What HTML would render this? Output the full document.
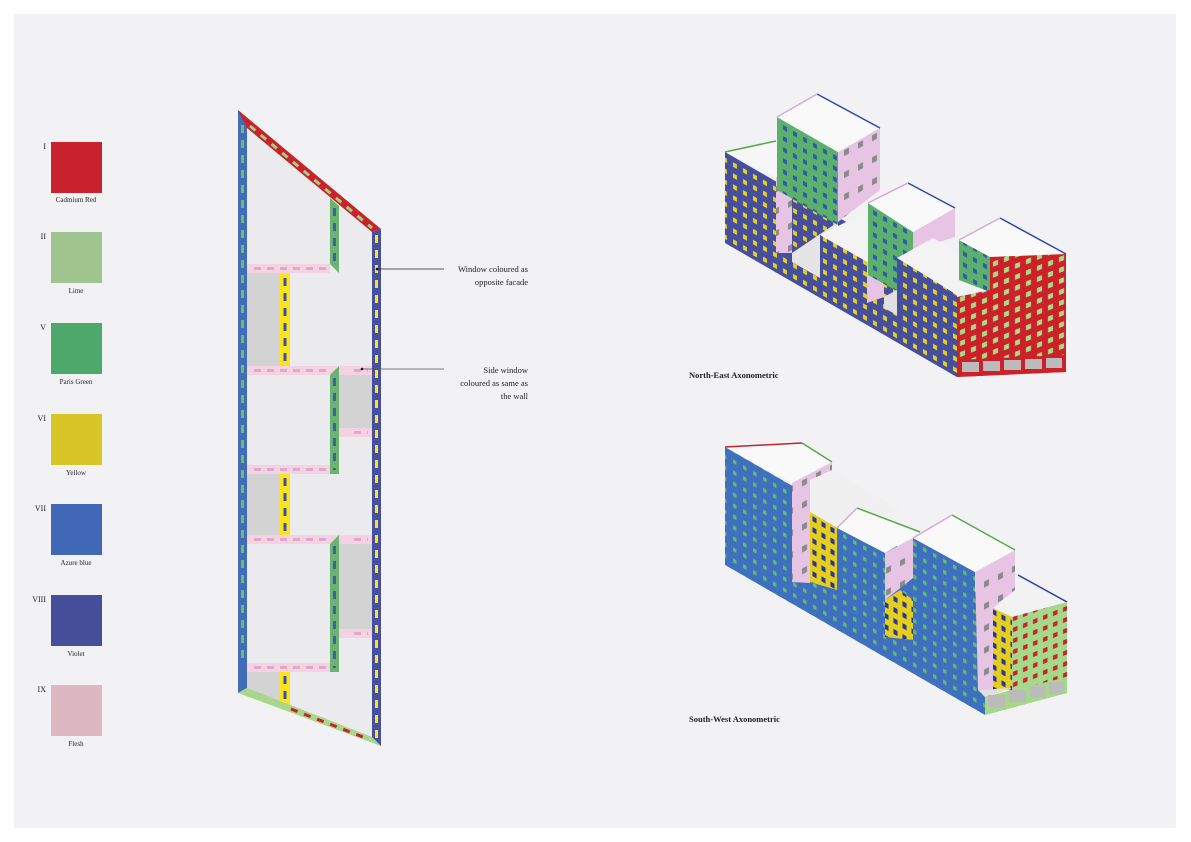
<!DOCTYPE html>
<html><head><meta charset="utf-8"><style>
html,body{margin:0;padding:0;background:#fff;}
svg{display:block;}
text{font-family:"Liberation Serif",serif;fill:#222;}
</style></head><body>
<svg width="1191" height="842" viewBox="0 0 1191 842" xmlns="http://www.w3.org/2000/svg">
<defs>
<pattern id="pV" width="10" height="11" patternUnits="userSpaceOnUse" patternTransform="skewY(30)"><rect width="10" height="11" fill="#454f9e"/><rect x="3" y="3" width="4" height="4.5" fill="#e8d21c"/></pattern>
<pattern id="pG" width="10" height="11" patternUnits="userSpaceOnUse" patternTransform="skewY(30)"><rect width="10" height="11" fill="#5cb06e"/><rect x="3" y="3" width="4" height="4.5" fill="#2f5aa8"/></pattern>
<pattern id="pR" width="11" height="11" patternUnits="userSpaceOnUse" patternTransform="skewY(-22)"><rect width="11" height="11" fill="#cc2128"/><rect x="3" y="3" width="5" height="5" fill="#a6df8a"/></pattern>
<pattern id="pA" width="10" height="11" patternUnits="userSpaceOnUse" patternTransform="skewY(30)"><rect width="10" height="11" fill="#3f6fbf"/><rect x="3" y="3" width="3.5" height="4" fill="#5cc06a"/></pattern>
<pattern id="pY" width="9" height="11" patternUnits="userSpaceOnUse" patternTransform="skewY(30)"><rect width="9" height="11" fill="#e6cf1c"/><rect x="2.5" y="3" width="4" height="5" fill="#2a35a0"/></pattern>
<pattern id="pL" width="10" height="11" patternUnits="userSpaceOnUse" patternTransform="skewY(-22)"><rect width="10" height="11" fill="#a6d88a"/><rect x="3" y="3" width="4.5" height="4.5" fill="#cc2128"/></pattern>
<pattern id="pP" width="14" height="22" patternUnits="userSpaceOnUse" patternTransform="skewY(-28)"><rect width="14" height="22" fill="#e8c4e4"/><rect x="4" y="5" width="5" height="6" fill="#8a8a8a"/></pattern>
</defs>
<rect x="14" y="14" width="1162" height="814" fill="#f2f2f4"/>

<!-- Legend -->
<g font-size="8">
<text x="46" y="149" text-anchor="end">I</text><rect x="51" y="142" width="51" height="51" fill="#c9242e"/><text x="76" y="202" text-anchor="middle" font-size="7">Cadmium Red</text>
<text x="46" y="239" text-anchor="end">II</text><rect x="51" y="232" width="51" height="51" fill="#9fc48e"/><text x="76" y="293" text-anchor="middle" font-size="7">Lime</text>
<text x="46" y="330" text-anchor="end">V</text><rect x="51" y="323" width="51" height="51" fill="#4ca86b"/><text x="76" y="384" text-anchor="middle" font-size="7">Paris Green</text>
<text x="46" y="421" text-anchor="end">VI</text><rect x="51" y="414" width="51" height="51" fill="#d8c626"/><text x="76" y="475" text-anchor="middle" font-size="7">Yellow</text>
<text x="46" y="511" text-anchor="end">VII</text><rect x="51" y="504" width="51" height="51" fill="#4068b6"/><text x="76" y="565" text-anchor="middle" font-size="7">Azure blue</text>
<text x="46" y="602" text-anchor="end">VIII</text><rect x="51" y="595" width="51" height="51" fill="#454e98"/><text x="76" y="656" text-anchor="middle" font-size="7">Violet</text>
<text x="46" y="692" text-anchor="end">IX</text><rect x="51" y="685" width="51" height="51" fill="#ddb8c1"/><text x="76" y="746" text-anchor="middle" font-size="7">Flesh</text>
</g>

<!-- Plan -->
<polygon points="247,118 372,232 372,740 247,693" fill="#ebebed"/>
<g fill="#d3d3d3">
<rect x="247" y="272" width="33" height="94"/>
<rect x="339" y="374" width="33" height="54"/>
<rect x="247" y="474" width="33" height="61"/>
<rect x="339" y="544" width="33" height="86"/>
<polygon points="247,672 280,672 280,705 247,693"/>
</g>
<g fill="#f4d2e2">
<rect x="247" y="264" width="83" height="9"/>
<rect x="247" y="366" width="125" height="9"/>
<rect x="339" y="428" width="33" height="9"/>
<rect x="247" y="465" width="83" height="9"/>
<rect x="247" y="535" width="125" height="9"/>
<rect x="339" y="629" width="33" height="9"/>
<rect x="247" y="663" width="83" height="9"/>
</g>
<g stroke="#e0a8cc" stroke-width="3" stroke-dasharray="7,6">
<line x1="254" y1="268.5" x2="330" y2="268.5"/>
<line x1="254" y1="370.5" x2="330" y2="370.5"/><line x1="354" y1="370.5" x2="368" y2="370.5"/>
<line x1="354" y1="432.5" x2="368" y2="432.5"/>
<line x1="254" y1="469.5" x2="330" y2="469.5"/>
<line x1="254" y1="539.5" x2="330" y2="539.5"/><line x1="354" y1="539.5" x2="368" y2="539.5"/>
<line x1="354" y1="633.5" x2="368" y2="633.5"/>
<line x1="254" y1="667.5" x2="330" y2="667.5"/>
</g>
<g fill="#6ab46f">
<polygon points="330,198 339,206 339,273 330,264"/>
<polygon points="330,375 339,366 339,474 330,474"/>
<polygon points="330,544 339,535 339,672 330,672"/>
</g>
<g stroke="#3c5fb0" stroke-width="3" stroke-dasharray="8,7">
<line x1="334.5" y1="208" x2="334.5" y2="262"/>
<line x1="334.5" y1="378" x2="334.5" y2="470"/>
<line x1="334.5" y1="546" x2="334.5" y2="668"/>
</g>
<g fill="#fde41a">
<rect x="280" y="273" width="10" height="93"/>
<rect x="280" y="474" width="10" height="61"/>
<rect x="280" y="672" width="10" height="33"/>
</g>
<g stroke="#3c4fa8" stroke-width="3" stroke-dasharray="8,7">
<line x1="285" y1="278" x2="285" y2="364"/>
<line x1="285" y1="478" x2="285" y2="532"/>
<line x1="285" y1="676" x2="285" y2="700"/>
</g>
<polygon points="238,110 247,118 247,688 238,693" fill="#416cb8"/>
<line x1="242.5" y1="125" x2="242.5" y2="660" stroke="#6dbb6e" stroke-width="3" stroke-dasharray="8,7"/>
<polygon points="238,110 381,229 372,232 247,128" fill="#c8232a"/>
<line x1="250" y1="126" x2="372" y2="228" stroke="#9fd08a" stroke-width="3" stroke-dasharray="7,7"/>
<polygon points="238,693 247,688 372,737 381,746" fill="#a8d68a"/>
<line x1="291" y1="709" x2="368" y2="739" stroke="#c8232a" stroke-width="3" stroke-dasharray="7,7"/>
<polygon points="372,232 381,229 381,746 372,737" fill="#4650a2"/>
<line x1="376.5" y1="235" x2="376.5" y2="740" stroke="#fde41a" stroke-width="3" stroke-dasharray="8,7"/>

<line x1="377" y1="269" x2="444" y2="269" stroke="#222" stroke-width="0.8"/><circle cx="377" cy="269" r="1.3" fill="#111"/>
<line x1="362" y1="369" x2="444" y2="369" stroke="#555" stroke-width="0.8"/><circle cx="362" cy="369" r="1.3" fill="#111"/>
<g font-size="8.5" text-anchor="end">
<text x="528" y="272">Window coloured as</text>
<text x="528" y="285">opposite facade</text>
<text x="528" y="373">Side window</text>
<text x="528" y="386">coloured as same as</text>
<text x="528" y="399">the wall</text>
</g>

<!-- NE Axonometric -->
<polygon points="725,152 957,286 957,377 725,243" fill="url(#pV)"/>
<polygon points="725,152 776,140 792,172 776,177" fill="#f7f7f7"/>
<line x1="725" y1="152" x2="776" y2="141" stroke="#55a84c" stroke-width="1.5"/>
<polygon points="776,177 792,171 792,253 776,253" fill="url(#pP)"/>
<polygon points="792,253 838,222 838,270 820,278 792,262" fill="#e5e5e5"/>
<polygon points="777,117 838,152 838,225 777,190" fill="url(#pG)"/>
<polygon points="838,152 880,128 880,190 838,222" fill="url(#pP)"/>
<polygon points="777,117 817,94 880,128 838,152" fill="#f9f9f9"/>
<line x1="817" y1="94" x2="880" y2="128" stroke="#2b4aa5" stroke-width="1.5"/>
<line x1="777" y1="117" x2="817" y2="94" stroke="#d8a8d6" stroke-width="1.5"/>
<polygon points="820,235 868,211 884,255 867,262" fill="#f3f3f3"/>
<polygon points="820,235 867,262 867,303 820,278" fill="url(#pV)"/>
<polygon points="867,262 884,255 884,297 867,303" fill="#e7c4e3"/>
<polygon points="868,203 913,232 913,300 868,275" fill="url(#pG)"/>
<polygon points="913,232 955,208 955,237 913,250" fill="#e8c4e4"/>
<polygon points="868,203 908,183 955,208 913,232" fill="#f9f9f9"/>
<line x1="908" y1="183" x2="955" y2="208" stroke="#2b4aa5" stroke-width="1.5"/>
<line x1="868" y1="203" x2="908" y2="183" stroke="#d8a8d6" stroke-width="1.5"/>
<polygon points="884,297 897,290 897,315 884,308" fill="#e0e0e0"/>
<polygon points="897,258 933,238 987,270 957,295" fill="#f3f3f3"/>
<polygon points="897,258 957,295 957,377 897,342" fill="url(#pV)"/>
<polygon points="959,240 990,257 990,292 959,280" fill="url(#pG)"/>
<polygon points="959,240 1000,218 1066,254 990,257" fill="#f9f9f9"/>
<line x1="1000" y1="218" x2="1066" y2="254" stroke="#2b4aa5" stroke-width="1.5"/>
<line x1="959" y1="240" x2="1000" y2="218" stroke="#d8a8d6" stroke-width="1.5"/>
<polygon points="957,297 990,290 990,257 1066,254 1066,372 957,377" fill="url(#pR)"/>
<polygon points="957,360 1066,355 1066,372 957,377" fill="#cc2128"/>
<g fill="#bbb"><rect x="962" y="362" width="17" height="10"/><rect x="983" y="361" width="17" height="10"/><rect x="1004" y="360" width="17" height="10"/><rect x="1025" y="359" width="17" height="10"/><rect x="1046" y="358" width="16" height="10"/></g>
<text x="689" y="378" font-size="8.5" font-weight="bold">North-East Axonometric</text>

<!-- SW Axonometric -->
<polygon points="725,447 985,597 985,715 725,565" fill="url(#pA)"/>
<polygon points="725,447 802,443 832,462 792,483" fill="#f9f9f9"/>
<line x1="725" y1="447" x2="802" y2="443" stroke="#c8232a" stroke-width="1.5"/>
<line x1="802" y1="443" x2="832" y2="462" stroke="#55a84c" stroke-width="1.5"/>
<polygon points="792,483 832,462 832,512 810,520 810,583 792,582" fill="url(#pP)"/>
<polygon points="810,480 832,470 900,510 837,528 810,512" fill="#f0f0f0"/>
<polygon points="810,512 837,528 837,590 810,582" fill="url(#pY)"/>
<polygon points="837,528 885,553 885,637 837,610" fill="url(#pA)"/>
<polygon points="885,553 913,538 913,578 885,600" fill="url(#pP)"/>
<polygon points="837,528 857,508 920,532 885,553" fill="#f9f9f9"/>
<line x1="857" y1="508" x2="920" y2="532" stroke="#55a84c" stroke-width="1.5"/>
<line x1="837" y1="528" x2="857" y2="508" stroke="#d8a8d6" stroke-width="1.5"/>
<polygon points="885,600 900,590 913,600 913,640 885,637" fill="url(#pY)"/>
<polygon points="913,538 975,572 975,690 913,655" fill="url(#pA)"/>
<polygon points="975,572 1015,550 1015,598 993,608 993,690 978,690" fill="url(#pP)"/>
<polygon points="913,538 952,515 1015,550 975,572" fill="#f9f9f9"/>
<line x1="952" y1="515" x2="1015" y2="550" stroke="#55a84c" stroke-width="1.5"/>
<line x1="913" y1="538" x2="952" y2="515" stroke="#d8a8d6" stroke-width="1.5"/>
<polygon points="1015,590 1018,575 1067,602 1012,617 993,608" fill="#f2f2f2"/>
<line x1="1018" y1="575" x2="1067" y2="602" stroke="#2b3aa0" stroke-width="1.5"/>
<polygon points="993,608 1012,617 1012,690 993,690" fill="url(#pY)"/>
<polygon points="1012,617 1067,602 1067,693 985,715 985,697 1012,690" fill="url(#pL)"/>
<polygon points="978,690 1012,688 985,697" fill="#e0e0e0"/>
<polygon points="985,697 1067,677 1067,693 985,715" fill="#a6d88a"/>
<g fill="#bbb"><rect x="988" y="695" width="17" height="12"/><rect x="1009" y="690" width="17" height="12"/><rect x="1030" y="686" width="16" height="12"/><rect x="1049" y="682" width="15" height="12"/></g>
<text x="689" y="722" font-size="8.5" font-weight="bold">South-West Axonometric</text>
</svg>
</body></html>
